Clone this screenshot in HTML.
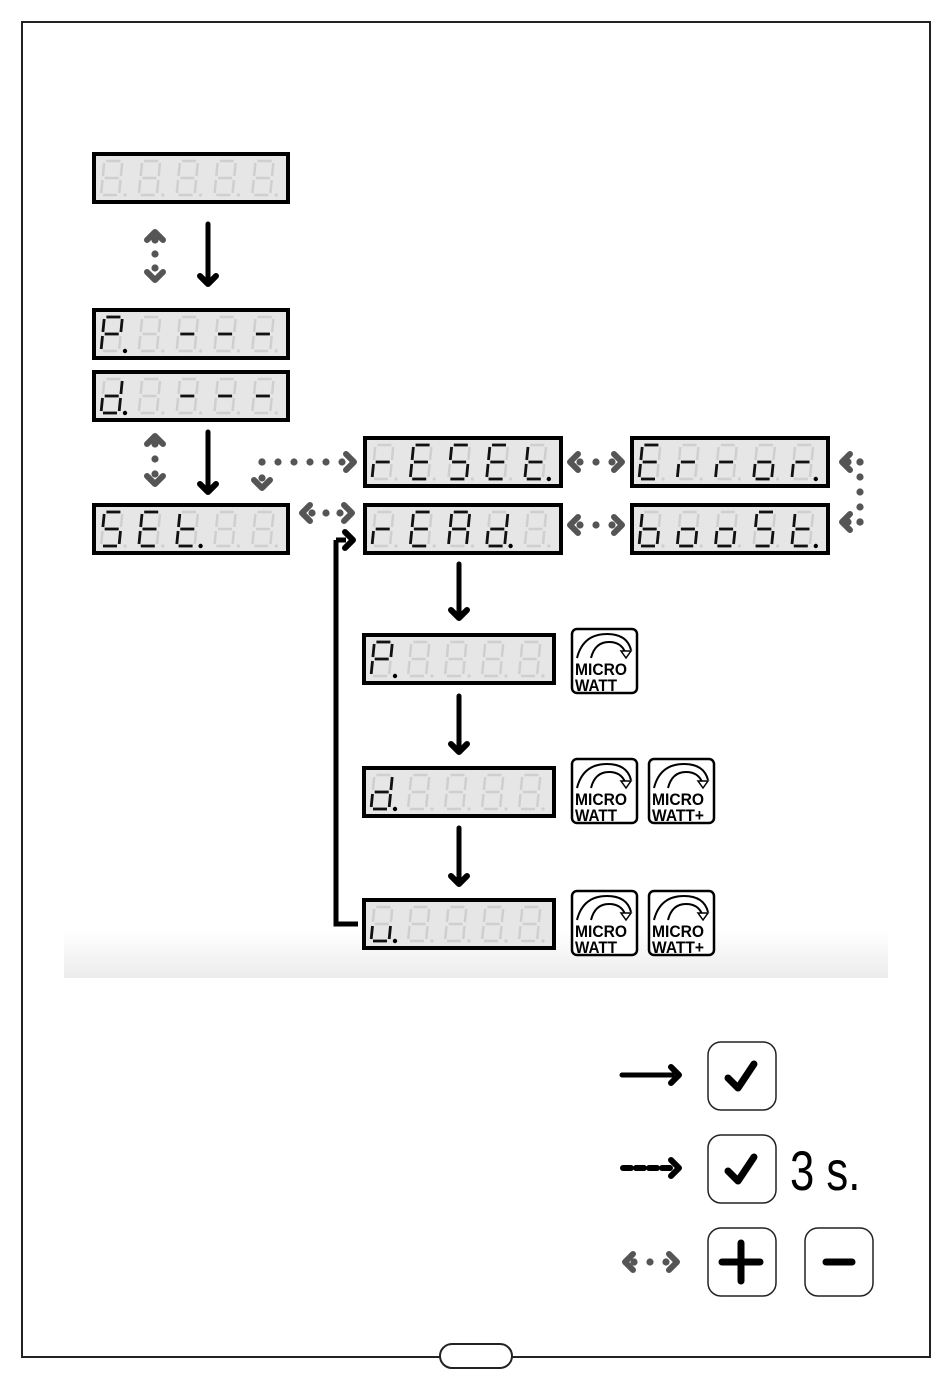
<!DOCTYPE html>
<html><head><meta charset="utf-8"><style>
html,body{margin:0;padding:0;background:#fff;width:950px;height:1378px;overflow:hidden}
svg{display:block}
</style></head><body>
<svg id="s" width="950" height="1378" viewBox="0 0 950 1378" xmlns="http://www.w3.org/2000/svg" font-family="Liberation Sans, sans-serif">
<defs><linearGradient id="band" x1="0" y1="0" x2="0" y2="1"><stop offset="0" stop-color="#fff"/><stop offset="1" stop-color="#ececec"/></linearGradient></defs>
<rect x="22" y="22" width="908" height="1335" fill="none" stroke="#222" stroke-width="2"/>
<rect x="64" y="930" width="824" height="48" fill="url(#band)"/>
<rect x="440" y="1344" width="72" height="24" rx="12" fill="#fff" stroke="#222" stroke-width="2"/>
<g id="g"></g>
<text x="790" y="1190" font-size="56" transform="translate(790 0) scale(0.78 1) translate(-790 0)">3 s.</text>
</svg>
<script>
var g=document.getElementById('g'),o='';
var SEG={P:'abefg',d:'bcdeg','-':'g',S:'acdfg',E:'adefg',t:'defg',r:'eg',A:'abcefg',b:'cdefg',o:'cdeg',U:'cde',' ':''};
function seg(x,y,s,col,w){var W=18,H=34,k=0.1;
function px(a,b){return (x+a+(H-b)*k).toFixed(1);}
var m={a:[[2,0],[W-2,0]],b:[[W,2],[W,H/2-2]],c:[[W,H/2+2],[W,H-2]],d:[[2,H],[W-2,H]],e:[[0,H/2+2],[0,H-2]],f:[[0,2],[0,H/2-2]],g:[[2,H/2],[W-2,H/2]]};
var l=m[s];return '<line x1="'+px(l[0][0],l[0][1])+'" y1="'+(y+l[0][1])+'" x2="'+px(l[1][0],l[1][1])+'" y2="'+(y+l[1][1])+'" stroke="'+col+'" stroke-width="'+w+'"/>';}
function disp(x,y,w,chars,dps){o+='<rect x="'+(x+2)+'" y="'+(y+2)+'" width="'+(w-4)+'" height="48" fill="#e6e6e6" stroke="#000" stroke-width="4"/>';
var pitch=(w-16)/5+1.4;
for(var i=0;i<5;i++){var dx=x+9+i*pitch,dy=y+9;
'abcdefg'.split('').forEach(function(s){o+=seg(dx,dy,s,'#cfcfcf',2.5);});
o+='<circle cx="'+(dx+24)+'" cy="'+(dy+34)+'" r="1.6" fill="#cfcfcf"/>';
var c=chars[i]||' ';(SEG[c]||'').split('').forEach(function(s){o+=seg(dx,dy,s,'#111',2.8);});
if(dps.indexOf(i)>=0)o+='<circle cx="'+(dx+24)+'" cy="'+(dy+34)+'" r="2.2" fill="#000"/>';}}
disp(92,152,198,[' ',' ',' ',' ',' '],[]);
disp(92,308,198,['P',' ','-','-','-'],[0]);
disp(92,370,198,['d',' ','-','-','-'],[0]);
disp(92,503,198,['S','E','t',' ',' '],[2]);
disp(363,436,200,['r','E','S','E','t'],[4]);
disp(630,436,200,['E','r','r','o','r'],[4]);
disp(363,503,200,['r','E','A','d',' '],[3]);
disp(630,503,200,['b','o','o','S','t'],[4]);
disp(362,633,194,['P',' ',' ',' ',' '],[0]);
disp(362,766,194,['d',' ',' ',' ',' '],[0]);
disp(362,898,194,['U',' ',' ',' ',' '],[0]);
function head(x,y,dir,col){var d=8,pts;
if(dir=='d')pts=[[x-d,y-d],[x,y],[x+d,y-d]];if(dir=='u')pts=[[x-d,y+d],[x,y],[x+d,y+d]];
if(dir=='r')pts=[[x-d,y-d],[x,y],[x-d,y+d]];if(dir=='l')pts=[[x+d,y-d],[x,y],[x+d,y+d]];
o+='<polyline points="'+pts.map(function(p){return p.join(',')}).join(' ')+'" fill="none" stroke="'+col+'" stroke-width="6" stroke-linecap="round" stroke-linejoin="round"/>';}
function solid(x1,y1,x2,y2,dir){o+='<line x1="'+x1+'" y1="'+y1+'" x2="'+x2+'" y2="'+y2+'" stroke="#000" stroke-width="5" stroke-linecap="round"/>';head(x2,y2,dir,'#000');}
function dots(x1,y1,x2,y2,n,col){for(var i=0;i<=n;i++){o+='<circle cx="'+(x1+(x2-x1)*i/n)+'" cy="'+(y1+(y2-y1)*i/n)+'" r="3.6" fill="'+col+'"/>';}}
var G='#555';
solid(208,224,208,284,'d');solid(208,432,208,492,'d');
solid(459,564,459,618,'d');solid(459,696,459,752,'d');solid(459,828,459,884,'d');
dots(155,240,155,268,2,G);head(155,232,'u',G);head(155,280,'d',G);
dots(155,444,155,474,2,G);head(155,436,'u',G);head(155,484,'d',G);
dots(262,462,342,462,5,G);head(354,462,'r',G);dots(262,462,262,478,1,G);head(262,488,'d',G);
dots(312,513,340,513,2,G);head(302,513,'l',G);head(352,513,'r',G);
dots(580,462,612,462,2,G);head(570,462,'l',G);head(622,462,'r',G);
dots(580,525,612,525,2,G);head(570,525,'l',G);head(622,525,'r',G);
dots(848,462,860,462,1,G);dots(860,462,860,522,4,G);dots(848,522,860,522,1,G);head(842,462,'l',G);head(842,522,'l',G);
o+='<polyline points="336,540 336,924 358,924" fill="none" stroke="#000" stroke-width="5"/>';
o+='<line x1="336" y1="540" x2="346" y2="540" stroke="#000" stroke-width="5"/>';head(353,540,'r','#000');
function mw(x,y,plus){o+='<rect x="'+(x+1)+'" y="'+(y+1)+'" width="65" height="64" rx="5" fill="#fff" stroke="#000" stroke-width="2.5"/>';
o+='<path d="M'+(x+6)+' '+(y+30)+' Q'+(x+12)+' '+(y+6)+' '+(x+36)+' '+(y+6)+' Q'+(x+56)+' '+(y+6)+' '+(x+60)+' '+(y+22)+'" fill="none" stroke="#000" stroke-width="2"/>';
o+='<path d="M'+(x+20)+' '+(y+30)+' Q'+(x+24)+' '+(y+14)+' '+(x+38)+' '+(y+14)+' Q'+(x+50)+' '+(y+14)+' '+(x+54)+' '+(y+24)+'" fill="none" stroke="#000" stroke-width="2"/>';
o+='<polygon points="'+(x+50)+','+(y+23)+' '+(x+60)+','+(y+23)+' '+(x+55)+','+(y+30)+'" fill="#fff" stroke="#000" stroke-width="1.5"/>';
o+='<text x="'+(x+4)+'" y="'+(y+47)+'" font-size="17" font-weight="bold" textLength="52" lengthAdjust="spacingAndGlyphs">MICRO</text>';
o+='<text x="'+(x+4)+'" y="'+(y+63)+'" font-size="17" font-weight="bold" textLength="'+(plus?52:42)+'" lengthAdjust="spacingAndGlyphs">WATT'+(plus?'+':'')+'</text>';}
mw(571,628,false);mw(571,758,false);mw(648,758,true);mw(571,890,false);mw(648,890,true);
function btn(x,y){o+='<rect x="'+x+'" y="'+y+'" width="68" height="68" rx="13" fill="#fff" stroke="#222" stroke-width="1.5"/>';}
function chk(x,y){o+='<polyline points="'+(x+20)+','+(y+36)+' '+(x+30)+','+(y+46)+' '+(x+46)+','+(y+22)+'" fill="none" stroke="#000" stroke-width="7" stroke-linecap="round" stroke-linejoin="round"/>';}
btn(708,1042);chk(708,1042);btn(708,1135);chk(708,1135);btn(708,1228);btn(805,1228);
o+='<line x1="722" y1="1262" x2="760" y2="1262" stroke="#000" stroke-width="7" stroke-linecap="round"/><line x1="741" y1="1243" x2="741" y2="1281" stroke="#000" stroke-width="7" stroke-linecap="round"/>';
o+='<line x1="826" y1="1262" x2="852" y2="1262" stroke="#000" stroke-width="7" stroke-linecap="round"/>';
o+='<line x1="622" y1="1075" x2="672" y2="1075" stroke="#000" stroke-width="5" stroke-linecap="round"/>';head(679,1075,'r','#000');
for(var i=0;i<4;i++)o+='<line x1="'+(623+i*13)+'" y1="1168" x2="'+(631+i*13)+'" y2="1168" stroke="#000" stroke-width="6" stroke-linecap="round"/>';head(679,1168,'r','#000');
dots(634,1262,666,1262,2,G);head(625,1262,'l',G);head(677,1262,'r',G);
g.innerHTML=o;
</script>
</body></html>
